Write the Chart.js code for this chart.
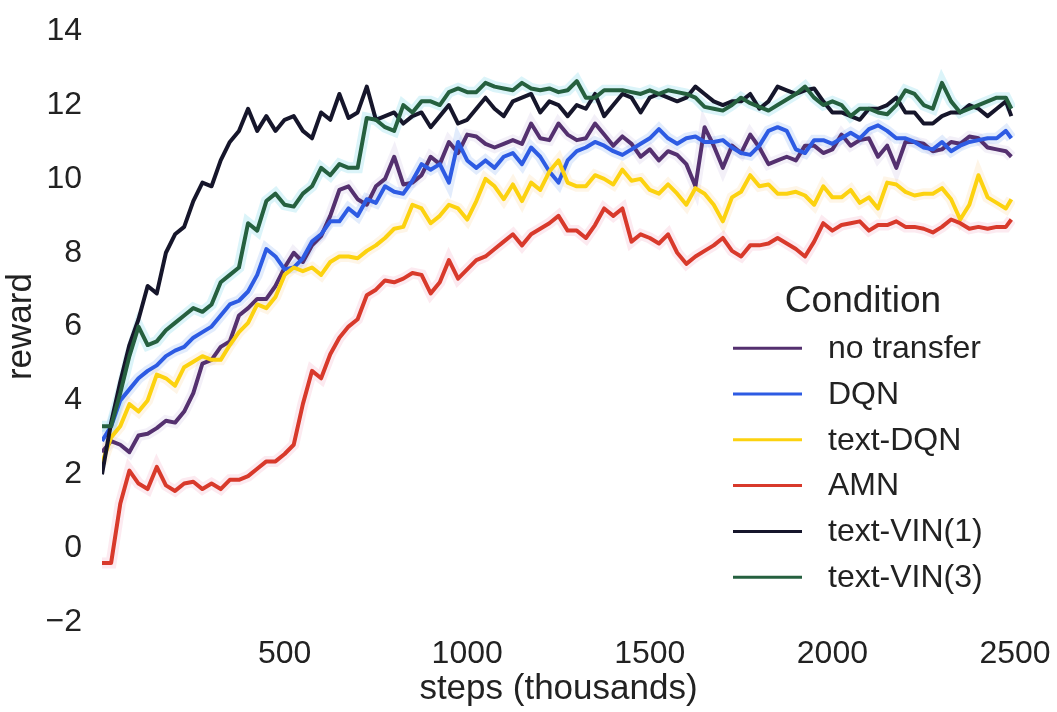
<!DOCTYPE html>
<html>
<head>
<meta charset="utf-8">
<title>reward vs steps</title>
<script src="https://cdn.jsdelivr.net/npm/chart.js@4.4.1/dist/chart.umd.min.js"></script>
<style>
  html, body { margin: 0; padding: 0; background: #fff; }
  #chart { display: block; }
</style>
</head>
<body>
<canvas id="chart" width="1057" height="712"></canvas>
<script>
// training steps (thousands), one sample every 25k plus the last logged step
const steps = []
for (let s = 0; s < 2500; s += 25) steps.push(s)
steps.push(2490)

const noTransfer = [
  2.6, 2.9, 2.8, 2.6, 3.05, 3.1, 3.25, 3.45, 3.4, 3.7,
  4.2, 5.0, 5.1, 5.45, 5.6, 6.3, 6.5, 6.75, 6.75, 7.1,
  7.6, 8.0, 7.75, 8.2, 8.45, 9.0, 9.7, 9.8, 9.45, 9.3,
  9.8, 10.0, 10.6, 9.85, 9.9, 10.1, 10.6, 10.4, 11.0, 10.7,
  11.2, 11.15, 10.95, 10.85, 10.95, 11.05, 10.95, 11.5, 11.1, 11.05,
  11.5, 11.2, 11.05, 11.1, 11.5, 11.2, 10.9, 11.15, 10.95, 10.6,
  10.8, 10.5, 10.75, 10.65, 10.4, 9.8, 11.4, 10.9, 10.3, 10.9,
  10.7, 11.2, 10.85, 10.4, 10.5, 10.6, 10.5, 10.9, 10.9, 10.7,
  10.8, 11.2, 10.9, 11.05, 11.1, 10.6, 10.9, 10.3, 11.0, 11.0,
  10.95, 10.75, 10.8, 11.0, 10.95, 11.15, 11.1, 10.85, 10.8, 10.75,
  10.6
]

const dqn = [
  2.9, 3.3, 4.0, 4.3, 4.6, 4.8, 4.95, 5.2, 5.35, 5.45,
  5.7, 5.85, 6.0, 6.3, 6.6, 6.7, 6.95, 7.4, 8.1, 7.9,
  7.55, 7.6, 7.85, 8.3, 8.5, 8.85, 8.85, 9.2, 9.0, 9.45,
  9.35, 9.8, 9.65, 9.6, 9.95, 10.4, 10.25, 10.4, 9.9, 11.0,
  10.5, 10.3, 10.5, 10.3, 10.6, 10.7, 10.4, 10.85, 10.6, 10.2,
  9.9, 10.5, 10.75, 10.85, 11.0, 10.9, 10.75, 10.65, 10.8, 10.95,
  11.1, 11.35, 11.1, 10.95, 11.1, 11.15, 11.0, 11.0, 11.05, 10.85,
  10.7, 10.65, 10.9, 11.3, 11.4, 11.3, 10.8, 10.7, 11.05, 11.05,
  10.95, 11.1, 11.25, 11.1, 11.35, 11.45, 11.3, 11.1, 11.1, 11.0,
  10.85, 10.8, 11.0, 10.75, 10.9, 11.0, 11.05, 11.1, 11.1, 11.3,
  11.1
]

const textDqn = [
  2.3, 3.0, 3.3, 3.9, 3.7, 4.0, 4.7, 4.6, 4.4, 4.9,
  5.05, 5.2, 5.1, 5.1, 5.5, 5.85, 6.1, 6.6, 6.5, 6.8,
  7.4, 7.6, 7.5, 7.6, 7.4, 7.75, 7.9, 7.9, 7.85, 8.05,
  8.2, 8.4, 8.65, 8.7, 9.3, 9.2, 8.8, 9.0, 9.3, 9.2,
  8.9, 9.4, 10.0, 9.8, 9.45, 9.85, 9.4, 9.9, 9.7, 10.2,
  10.5, 9.9, 9.8, 9.8, 10.1, 10.0, 9.85, 10.25, 9.95, 10.0,
  9.7, 9.6, 9.85, 9.6, 9.3, 9.75, 9.6, 9.3, 8.85, 9.5,
  9.65, 10.1, 9.8, 9.85, 9.6, 9.6, 9.65, 9.55, 9.3, 9.8,
  9.5, 9.5, 9.7, 9.35, 9.5, 9.2, 9.9, 9.85, 9.65, 9.55,
  9.6, 9.6, 9.75, 9.45, 8.9, 9.3, 10.1, 9.5, 9.35, 9.2,
  9.45
]

const amn = [
  -0.4, -0.4, 1.2, 2.1, 1.75, 1.6, 2.2, 1.7, 1.55, 1.75,
  1.8, 1.6, 1.75, 1.6, 1.85, 1.85, 1.95, 2.15, 2.35, 2.35,
  2.55, 2.8, 3.9, 4.8, 4.6, 5.25, 5.7, 6.0, 6.2, 6.85,
  7.0, 7.25, 7.2, 7.3, 7.45, 7.4, 6.9, 7.2, 7.8, 7.3,
  7.55, 7.8, 7.9, 8.1, 8.3, 8.5, 8.2, 8.5, 8.65, 8.8,
  9.0, 8.6, 8.6, 8.4, 8.75, 9.2, 9.0, 9.2, 8.3, 8.5,
  8.4, 8.25, 8.5, 8.0, 7.7, 7.9, 8.05, 8.2, 8.4, 8.05,
  7.9, 8.2, 8.2, 8.25, 8.4, 8.25, 8.1, 7.9, 8.3, 8.8,
  8.6, 8.75, 8.8, 8.85, 8.6, 8.75, 8.75, 8.85, 8.7, 8.7,
  8.65, 8.55, 8.7, 8.9, 8.8, 8.65, 8.7, 8.65, 8.7, 8.7,
  8.9
]

const textVin1 = [
  2.0, 3.4, 4.5, 5.5, 6.2, 7.1, 6.9, 8.0, 8.5, 8.7,
  9.4, 9.9, 9.8, 10.5, 11.0, 11.3, 11.9, 11.3, 11.7, 11.3,
  11.6, 11.7, 11.3, 11.1, 11.8, 11.6, 12.3, 11.65, 11.8, 12.5,
  11.6, 11.7, 11.8, 11.5, 11.7, 11.8, 11.4, 11.7, 12.0, 11.5,
  11.6, 11.9, 12.2, 11.9, 11.7, 12.1, 12.2, 12.3, 11.8, 12.1,
  12.0, 11.7, 12.0, 11.9, 12.3, 11.7, 12.0, 12.3, 12.2, 11.8,
  12.2, 12.3, 12.2, 12.1, 12.2, 12.5, 12.3, 12.1, 12.0, 12.1,
  12.1, 12.3, 11.9, 12.1, 12.5, 12.4, 12.3, 12.4, 12.45, 12.1,
  11.8, 11.8, 11.7, 11.6, 11.9, 11.9, 12.0, 12.2, 11.8, 11.8,
  11.5, 11.5, 11.7, 11.8, 11.8, 12.0, 11.9, 11.7, 11.9, 12.1,
  11.7
]

const textVin3 = [
  3.3, 3.3, 4.2, 5.2, 6.0, 5.5, 5.6, 5.9, 6.1, 6.3,
  6.5, 6.4, 6.6, 7.2, 7.4, 7.6, 8.8, 8.6, 9.4, 9.6,
  9.3, 9.25, 9.6, 9.8, 10.3, 10.1, 10.4, 10.3, 10.3, 11.65,
  11.6, 11.4, 11.3, 12.0, 11.8, 12.1, 12.1, 12.0, 12.35, 12.45,
  12.35, 12.35, 12.6, 12.5, 12.45, 12.4, 12.6, 12.45, 12.4, 12.45,
  12.35, 12.4, 12.65, 12.2, 12.2, 12.4, 12.4, 12.4, 12.35, 12.3,
  12.4, 12.3, 12.4, 12.35, 12.3, 12.2, 11.95, 11.9, 11.85, 12.0,
  12.2, 12.05, 11.95, 11.85, 12.0, 12.15, 12.3, 12.5, 12.2, 12.0,
  12.1, 12.0, 11.7, 11.9, 11.9, 11.8, 11.75, 12.0, 12.4, 12.3,
  12.0, 11.9, 12.6, 12.1, 11.8, 11.9, 12.0, 12.1, 12.2, 12.2,
  11.9
]

const yTicks = [-2, 0, 2, 4, 6, 8, 10, 12, 14]
const xTicks = [500, 1000, 1500, 2000, 2500]

// name, values, line colour, soft band colour (null = no band)
const conditions = [
  ['no transfer', noTransfer, '#54306f', 'rgba(160, 130, 200, 0.12)'],
  ['DQN', dqn, '#2d5be3', 'rgba(110, 160, 240, 0.20)'],
  ['text-DQN', textDqn, '#fcd20f', 'rgba(250, 200, 120, 0.18)'],
  ['AMN', amn, '#d8392b', 'rgba(240, 140, 170, 0.18)'],
  ['text-VIN(1)', textVin1, '#16162b', null],
  ['text-VIN(3)', textVin3, '#25603f', 'rgba(110, 210, 230, 0.25)']
]

const toPoints = vals => vals.map((v, i) => ({ x: steps[i], y: v }))

const datasets = []
conditions.forEach(([name, vals, color, band], i) => {
  const order = conditions.length - i
  if (band) {
    datasets.push({
      label: name + ' band',
      data: toPoints(vals),
      borderColor: band,
      borderWidth: 11,
      pointRadius: 0,
      tension: 0,
      order: 100 + order
    })
  }
  datasets.push({
    label: name,
    data: toPoints(vals),
    borderColor: color,
    borderWidth: 4,
    pointRadius: 0,
    tension: 0,
    borderJoinStyle: 'round',
    order: order
  })
})

const textColor = '#222222'
const fontFamily = "'Liberation Sans', Arial, sans-serif"

// legend drawn inside the plot, lower right
const conditionLegend = {
  id: 'conditionLegend',
  afterDraw(chart) {
    const ctx = chart.ctx
    const area = chart.chartArea
    const x0 = area.right - 282
    const y0 = area.top + 271
    ctx.save()
    ctx.fillStyle = textColor
    ctx.textAlign = 'center'
    ctx.textBaseline = 'middle'
    ctx.font = '37px ' + fontFamily
    ctx.fillText('Condition', x0 + 130, y0)

    ctx.textAlign = 'left'
    ctx.font = '32px ' + fontFamily
    conditions.forEach(([name, , color], i) => {
      const y = y0 + 46 + i * 45.8
      ctx.strokeStyle = color
      ctx.lineWidth = 3
      ctx.beginPath()
      ctx.moveTo(x0, y)
      ctx.lineTo(x0 + 69, y)
      ctx.stroke()
      ctx.fillStyle = textColor
      ctx.fillText(name, x0 + 95, y + 1)
    })
    ctx.restore()
  }
}

new Chart(document.getElementById('chart'), {
  type: 'line',
  data: { datasets },
  options: {
    responsive: false,
    animation: false,
    layout: { padding: { top: 22, right: 42, left: 0, bottom: 0 } },
    plugins: {
      legend: { display: false },
      tooltip: { enabled: false }
    },
    scales: {
      x: {
        type: 'linear',
        min: 0,
        max: 2500,
        afterFit: scale => { scale.height = 90 },
        afterBuildTicks: scale => { scale.ticks = xTicks.map(v => ({ value: v })) },
        grid: { display: false },
        border: { display: false },
        ticks: {
          color: textColor,
          padding: 5,
          maxRotation: 0,
          font: { family: fontFamily, size: 32 },
          callback: v => String(v)
        },
        title: {
          display: true,
          text: 'steps (thousands)',
          color: textColor,
          padding: { top: 0, bottom: 2 },
          font: { family: fontFamily, size: 35 }
        }
      },
      y: {
        min: -2,
        max: 14,
        afterFit: scale => { scale.width = 102 },
        afterBuildTicks: scale => { scale.ticks = yTicks.map(v => ({ value: v })) },
        grid: { display: false },
        border: { display: false },
        ticks: {
          color: textColor,
          padding: 12,
          font: { family: fontFamily, size: 32 },
          callback: v => String(v).replace('-', '\u2212')
        },
        title: {
          display: true,
          text: 'reward',
          color: textColor,
          padding: { top: 0, bottom: 0 },
          font: { family: fontFamily, size: 35 }
        }
      }
    }
  },
  plugins: [conditionLegend]
})
</script>
</body>
</html>
